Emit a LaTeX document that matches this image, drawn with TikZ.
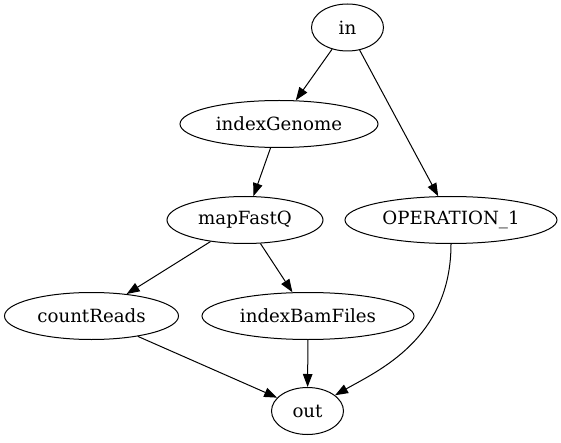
\documentclass[tikz,border=0pt]{standalone}
\usepackage{fontspec}
\setmainfont{DejaVu Serif}
\usetikzlibrary{shapes.geometric,arrows.meta}
\tikzset{
  nd/.style={draw, ellipse, line width=1pt, inner sep=0pt, minimum height=47pt,
    font=\fontsize{18.2}{22}\selectfont},
  edge/.style={line width=1pt, -{Triangle[length=13pt,width=9.5pt]}}
}
\begin{document}
\begin{tikzpicture}[x=1pt,y=-1pt]
\useasboundingbox (0,0) rectangle (561,443);
\node[nd, minimum width=72pt]  (in)   at (347.5,27.5) {in};
\node[nd, minimum width=198pt] (ig)   at (279,124) {indexGenome};
\node[nd, minimum width=156pt] (mf)   at (245,220) {mapFastQ};
\node[nd, minimum width=212pt] (op)   at (451,220) {OPERATION\_1};
\node[nd, minimum width=174pt] (cr)   at (91.5,316) {countReads};
\node[nd, minimum width=212pt] (ib)   at (308,316) {indexBamFiles};
\node[nd, minimum width=72pt]  (out)  at (307.5,411) {out};
\draw[edge] (in) -- (ig);
\draw[edge] (in) -- (op);
\draw[edge] (ig) -- (mf);
\draw[edge] (mf) -- (cr);
\draw[edge] (mf) -- (ib);
\draw[edge] (ib) -- (out);
\draw[edge] (cr) -- (out);
\draw[edge] (op.south) .. controls +(0,95) and +(70,-40) .. (out);
\end{tikzpicture}
\end{document}
